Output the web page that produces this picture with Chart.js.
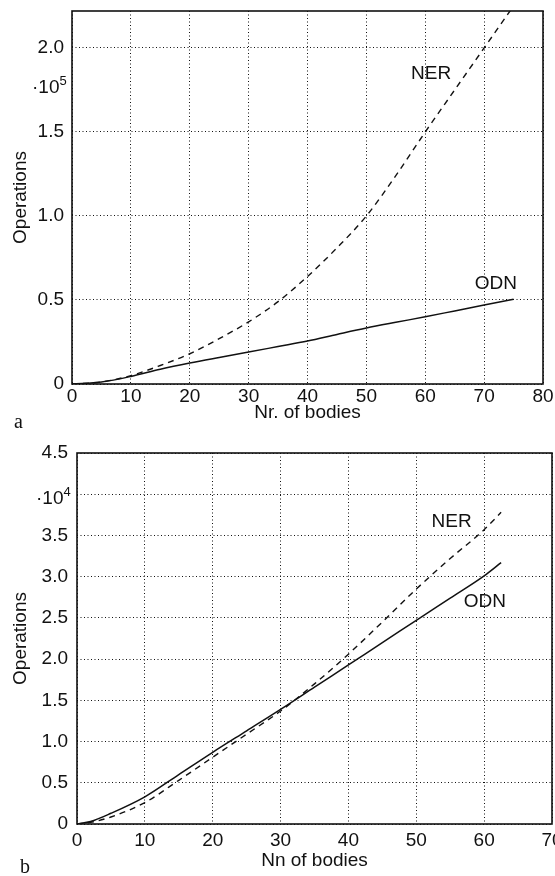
<!DOCTYPE html>
<html lang="en">
<head>
<meta charset="UTF-8">
<title>Operations vs. number of bodies</title>
<script src="https://cdn.jsdelivr.net/npm/chart.js@4"></script>
<style>
  html, body { margin: 0; padding: 0; background: #fff; }
  body { width: 555px; height: 876px; position: relative; overflow: hidden; font-family: "Liberation Sans", Arial, sans-serif; color: #111; }
  .box { position: absolute; left: 0; width: 555px; }
  #boxA { top: 0; height: 430px; }
  #boxB { top: 440px; height: 436px; }
  .tag { position: absolute; font-family: "Liberation Serif", serif; font-size: 20px; line-height: 1; }
  .exp { position: absolute; font-size: 19px; line-height: 1; white-space: nowrap; }
  .exp sup { font-size: 13px; vertical-align: 0; position: relative; top: -8px; }
</style>
</head>
<body>
<div class="box" id="boxA"><canvas id="chartA"></canvas></div>
<div class="box" id="boxB"><canvas id="chartB"></canvas></div>
<div class="exp" style="left:32px; top:77px;">·10<sup>5</sup></div>
<div class="exp" style="left:36px; top:488px;">·10<sup>4</sup></div>
<div class="tag" style="left:14px; top:411px;">a</div>
<div class="tag" style="left:20px; top:856px;">b</div>
<script>
// ---- data (a): operations in units of 1e5
const bodiesA = [0, 5, 10, 15, 20, 25, 30, 35, 40, 45, 50, 55, 60, 65, 70, 75];
const nerA = [0, 0.012, 0.05, 0.11, 0.18, 0.27, 0.37, 0.49, 0.64, 0.81, 1.0, 1.24, 1.5, 1.75, 2.0, 2.25];
const odnA = [0, 0.012, 0.045, 0.088, 0.125, 0.158, 0.19, 0.223, 0.256, 0.295, 0.333, 0.367, 0.40, 0.435, 0.47, 0.505];
const xTicksA = [0, 10, 20, 30, 40, 50, 60, 70, 80];
const yTicksA = [0, 0.5, 1.0, 1.5, 2.0];
const yLabelsA = ['0', '0.5', '1.0', '1.5', '2.0'];

// ---- data (b): operations in units of 1e4
const bodiesB = [0, 2, 5, 10, 15, 20, 25, 30, 35, 40, 45, 50, 55, 60, 62.5];
const nerB = [0, 0.02, 0.085, 0.26, 0.53, 0.81, 1.09, 1.37, 1.70, 2.06, 2.45, 2.85, 3.22, 3.57, 3.78];
const odnB = [0, 0.03, 0.13, 0.33, 0.60, 0.87, 1.13, 1.39, 1.66, 1.93, 2.20, 2.47, 2.74, 3.01, 3.17];
const xTicksB = [0, 10, 20, 30, 40, 50, 60, 70];
const yTicksB = [0, 0.5, 1.0, 1.5, 2.0, 2.5, 3.0, 3.5, 4.0, 4.5];
const yLabelsB = ['0', '0.5', '1.0', '1.5', '2.0', '2.5', '3.0', '3.5', '', '4.5'];

const INK = '#111';
const FONT = '"Liberation Sans", Arial, sans-serif';

// frame round the plot area
const framePlugin = {
  id: 'frame',
  afterDatasetsDraw(chart) {
    const a = chart.chartArea, ctx = chart.ctx;
    ctx.save();
    ctx.strokeStyle = INK;
    ctx.lineWidth = 1.6;
    ctx.strokeRect(a.left, a.top, a.right - a.left, a.bottom - a.top);
    ctx.restore();
  }
};

// curve names written next to the lines
const curveLabelPlugin = {
  id: 'curveLabels',
  afterDatasetsDraw(chart, args, opts) {
    const ctx = chart.ctx;
    ctx.save();
    ctx.fillStyle = INK;
    ctx.font = '19px ' + FONT;
    ctx.textAlign = 'center';
    ctx.textBaseline = 'middle';
    (opts.items || []).forEach(it => {
      ctx.fillText(it.text, chart.scales.x.getPixelForValue(it.x), chart.scales.y.getPixelForValue(it.y));
    });
    ctx.restore();
  }
};

function pts(xs, ys) {
  return xs.map((x, i) => ({ x: x, y: ys[i] }));
}

function makeChart(id, d) {
  return new Chart(document.getElementById(id), {
    type: 'scatter',
    data: {
      datasets: [
        { label: 'NER', data: pts(d.xs, d.ner), showLine: true, borderColor: INK, borderWidth: 1.4,
          borderDash: [6, 5], pointRadius: 0, cubicInterpolationMode: 'monotone' },
        { label: 'ODN', data: pts(d.xs, d.odn), showLine: true, borderColor: INK, borderWidth: 1.5,
          pointRadius: 0, cubicInterpolationMode: 'monotone' }
      ]
    },
    options: {
      responsive: true,
      maintainAspectRatio: false,
      animation: false,
      layout: { autoPadding: false, padding: d.pad },
      plugins: {
        legend: { display: false },
        tooltip: { enabled: false },
        curveLabels: { items: d.labels }
      },
      scales: {
        x: {
          type: 'linear', min: d.xTicks[0], max: d.xTicks[d.xTicks.length - 1],
          afterBuildTicks: s => { s.ticks = d.xTicks.map(v => ({ value: v })); },
          afterFit: s => { s.height = d.xHeight; s.paddingLeft = 0; s.paddingRight = 0; },
          grid: { color: INK, lineWidth: 1, drawTicks: false },
          border: { display: false, dash: [1, 2.5] },
          ticks: { color: INK, font: { family: FONT, size: 19 }, padding: d.xPad, maxRotation: 0, autoSkip: false },
          title: { display: true, text: d.xTitle, color: INK, font: { family: FONT, size: 19 },
                   padding: { top: 0, bottom: d.xTitlePad } }
        },
        y: {
          type: 'linear', min: 0, max: d.yMax,
          afterBuildTicks: s => { s.ticks = d.yTicks.map(v => ({ value: v })); },
          afterFit: s => { s.width = d.yWidth; s.paddingTop = 0; s.paddingBottom = 0; },
          grid: { color: INK, lineWidth: 1, drawTicks: false },
          border: { display: false, dash: [1, 2.5] },
          ticks: { color: INK, font: { family: FONT, size: 19 }, padding: d.yPad, autoSkip: false,
                   callback: (v, i) => d.yLabels[i] },
          title: { display: true, text: 'Operations', color: INK, font: { family: FONT, size: 19 },
                   padding: { top: 9, bottom: 0 } }
        }
      }
    },
    plugins: [framePlugin, curveLabelPlugin]
  });
}

makeChart('chartA', {
  xs: bodiesA, ner: nerA, odn: odnA,
  xTicks: xTicksA, yTicks: yTicksA, yLabels: yLabelsA, yMax: 2.22,
  pad: { top: 11, right: 12, left: 0, bottom: 0 },
  xHeight: 46, yWidth: 72, xPad: 1, yPad: 8, xTitlePad: 6,
  xTitle: 'Nr. of bodies',
  labels: [{ text: 'NER', x: 61, y: 1.845 }, { text: 'ODN', x: 72, y: 0.595 }]
});

makeChart('chartB', {
  xs: bodiesB, ner: nerB, odn: odnB,
  xTicks: xTicksB, yTicks: yTicksB, yLabels: yLabelsB, yMax: 4.5,
  pad: { top: 13, right: 3, left: 0, bottom: 0 },
  xHeight: 52, yWidth: 77, xPad: 5, yPad: 9, xTitlePad: 4,
  xTitle: 'Nn of bodies',
  labels: [{ text: 'NER', x: 55.2, y: 3.66 }, { text: 'ODN', x: 60.1, y: 2.69 }]
});
</script>
</body>
</html>
